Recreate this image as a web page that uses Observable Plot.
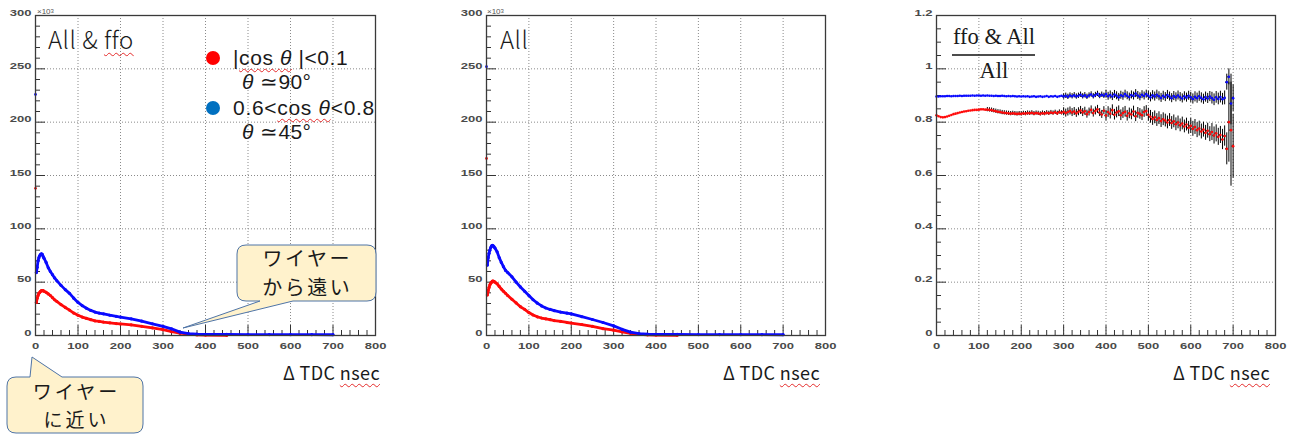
<!DOCTYPE html>
<html><head><meta charset="utf-8">
<script src="https://cdn.jsdelivr.net/npm/d3@7"></script>
<script src="https://cdn.jsdelivr.net/npm/@observablehq/plot@0.6"></script>
<style>
body{margin:0;background:#fff;}
#root{position:relative;width:1299px;height:436px;overflow:hidden;background:#fff;}
.panel{position:absolute;top:0;}
.t{position:absolute;white-space:nowrap;line-height:1;color:#1a1a1a;}
.wavy{text-decoration:underline wavy #e52b2b;text-decoration-thickness:1px;text-underline-offset:3px;}
.it{font-style:italic;}
.callout{position:absolute;text-align:center;white-space:nowrap;color:#1a1a1a;font-family:"Noto Sans CJK JP","Noto Sans",sans-serif;}
#ov{position:absolute;left:0;top:0;}
</style></head>
<body><div id="root"></div>
<script>
// ---------------- data ----------------
// panels 1 & 2: counts (x10^3) vs ΔTDC (ns)
const countNs = [2,4,6,8,10,12,14,16,18,20,25,30,35,40,45,50,60,70,80,90,100,110,120,130,140,150,160,175,190,200,225,250,275,300,320,340,360,380,400,450,500,550,600,650,700];
const allFfoBlue = [59,64,70,73,75,76,76.6,76,74,72.5,68.5,63.5,60,57,54,51.5,47,43,39.5,35,31,28,25.5,23.5,22,21,20.3,19,18,17.3,15.6,13.4,11,8.6,6.3,3.2,1.8,1.3,1.1,1.0,0.9,0.9,0.8,0.8,0.7];
const allFfoRed  = [31,35,37.5,39.5,40.5,41.5,42,42,42,41.5,40.5,39,37.5,35.5,33.5,32,29,26.3,23.8,21,19,17.3,16,14.8,13.8,13.2,12.6,11.9,11.2,10.8,10,8.6,7.2,5.4,3.6,2.2,1.2,0.6,0.4,0.2,null,null,null,null,null];
const allBlue    = [66,73,77,80,82.5,84,84.5,84,83,82,78.5,73,68.5,64.5,61,59,55,50,45.5,41.5,37.5,33.5,30.3,27.7,25.8,24.4,23.3,22,20.9,20.2,17.6,15,12.2,9,5.8,3.1,1.8,1.3,1.1,1.0,0.9,0.9,0.8,0.8,0.7];
const allRed     = [38,42,45,47.5,49,50,51,51,50.5,50,48.5,46,43.5,41.5,39.5,37.5,34,30.5,27,24.5,21.5,19.2,17.5,16.4,15.6,14.8,14,13.2,12.2,11.7,10.3,8.5,6.4,5,3.4,2,1.1,0.6,0.4,0.25,null,null,null,null,null];
// first bin (ΔTDC = 0): [All & ffo, All]
const zeroBinBlue = [226, 252];
const zeroBinRed  = [138, 166];

// panel 3: ratio (ffo & All) / All
const ratioNs = [
0,5,10,15,20,25,30,35,40,45, 50,55,60,65,70,75,80,85,90,95,
100,105,110,115,120,125,130,135,140,145, 150,155,160,165,170,175,180,185,190,195,
200,205,210,215,220,225,230,235,240,245, 250,255,260,265,270,275,280,285,290,295,
300,305,310,315,320,325,330,335,340,345, 350,355,360,365,370,375,380,385,390,395,
400,405,410,415,420,425,430,435,440,445, 450,455,460,465,470,475,480,485,490,495,
500,505,510,515,520,525,530,535,540,545, 550,555,560,565,570,575,580,585,590,595,
600,605,610,615,620,625,630,635,640,645, 650,655,660,665,670,675,680,685,690,695,
700];
const ratioRed = [
.826,.822,.819,.818,.819,.821,.824,.827,.830,.832,
.834,.836,.838,.840,.841,.843,.844,.845,.846,.846,
.847,.848,.848,.847,.847,.846,.845,.843,.841,.839,
.838,.836,.835,.834,.833,.832,.833,.832,.831,.832,
.831,.833,.832,.834,.833,.835,.832,.834,.833,.831,
.834,.832,.835,.833,.836,.834,.837,.833,.838,.835,
.839,.834,.838,.842,.836,.840,.833,.839,.844,.836,
.841,.830,.838,.846,.834,.842,.848,.836,.829,.843,
.825,.838,.832,.845,.828,.836,.841,.826,.834,.839,
.824,.833,.829,.840,.822,.835,.831,.826,.838,.842,
.828,.820,.812,.818,.808,.815,.804,.811,.806,.799,
.808,.797,.803,.792,.799,.788,.795,.784,.791,.779,
.786,.775,.782,.770,.776,.765,.772,.760,.768,.755,
.763,.750,.758,.745,.752,.735,.748,.700,.800,.770,
.710];
const ratioBlue = [
.896,.896,.897,.897,.897,.898,.898,.897,.898,.898,
.898,.899,.898,.899,.899,.899,.899,.900,.899,.900,
.900,.899,.900,.899,.900,.899,.899,.898,.899,.898,
.898,.899,.898,.897,.898,.897,.898,.897,.896,.897,
.896,.897,.896,.897,.895,.896,.897,.895,.896,.897,
.895,.896,.898,.895,.897,.896,.898,.895,.897,.899,
.896,.899,.895,.900,.897,.901,.896,.899,.903,.897,
.901,.895,.900,.904,.897,.902,.906,.898,.903,.899,
.905,.897,.902,.896,.904,.899,.893,.901,.897,.905,
.899,.894,.902,.898,.907,.900,.895,.903,.898,.905,
.899,.893,.901,.896,.903,.897,.891,.899,.894,.902,
.896,.890,.898,.893,.900,.894,.889,.897,.892,.899,
.893,.887,.895,.890,.897,.891,.886,.894,.889,.896,
.890,.884,.893,.887,.894,.886,.891,.950,.970,.870,
.890];
// error bar half-size, by ΔTDC range start
const errRedStart  = [0,120,300,400,500,600,650,675,685,690,695,700];
const errRed       = [0,.008,.015,.02,.024,.028,.032,.038,.06,.15,.21,.12];
const errBlueStart = [0,300,400,500,600,650,680,685,690,695,700];
const errBlue      = [0,.01,.015,.017,.019,.022,.026,.03,.03,.08,.05];

// axes
const xMajor = [0,100,200,300,400,500,600,700,800];
const yMajorCount = [0,50,100,150,200,250,300];
const yMajorRatio = [0,0.2,0.4,0.6,0.8,1,1.2];

// ---------------- drawing ----------------
const RED = "#ff0a0a", BLUE = "#0a0aff";
const CJK = '"Noto Sans CJK JP","Noto Sans",sans-serif';
const SANS = '"Liberation Sans",Arial,sans-serif';
const SERIF = '"Liberation Serif","DejaVu Serif",serif';
const root = document.getElementById("root");
const xMinor = d3.range(0, 801, 20).filter(v => v % 100 !== 0);
const yMinorCount = d3.range(0, 301, 10).filter(v => v % 50 !== 0);
const yMinorRatio = d3.range(0, 25).filter(i => i % 4 !== 0).map(i => i * 0.05);

const pts = (ns, vals) => ns.map((x, i) => ({x, y: vals[i]})).filter(d => d.y != null);
const lookup = (starts, vals, x) => { let k = 0; for (let i = 0; i < starts.length; i++) if (starts[i] <= x) k = i; return vals[k]; };

function panel({left, width, ml, mr, yDomain, yMajor, yMinor, dataMarks}) {
  const mt = 15, mb = 25, height = 360;
  const fw = width - ml - mr, fh = height - mt - mb;
  const grid = {stroke: "#8a8a8a", strokeDasharray: "1,2", strokeWidth: 1};
  const tick = {stroke: "#333", strokeWidth: 1};
  const p = Plot.plot({
    width, height, marginLeft: ml, marginRight: mr, marginTop: mt, marginBottom: mb,
    x: {domain: [0, 800]}, y: {domain: yDomain},
    style: {background: "transparent", overflow: "visible"},
    marks: [
      Plot.ruleX(xMajor.slice(1, -1), grid),
      Plot.ruleY(yMajor.slice(1, -1), grid),
      Plot.ruleX(xMajor, {...tick, insetTop: fh - 10}),
      Plot.ruleX(xMinor, {...tick, insetTop: fh - 5}),
      Plot.ruleY(yMajor, {...tick, insetRight: fw - 10}),
      Plot.ruleY(yMinor, {...tick, insetRight: fw - 5}),
      ...dataMarks,
      Plot.frame({stroke: "#3a3a3a", strokeWidth: 1.3}),
      Plot.axisX({ticks: xMajor, tickSize: 0, tickPadding: 13, label: null, tickFormat: d => String(d)}),
      Plot.axisY({ticks: yMajor, tickSize: 0, tickPadding: 4, label: null, tickFormat: d => String(d)})
    ]
  });
  p.querySelectorAll("text").forEach(t => {
    t.setAttribute("font-family", "Liberation Sans, Arial, sans-serif");
    t.setAttribute("font-weight", "bold");
    t.setAttribute("font-size", "9");
    t.setAttribute("fill", "#4a4a4a");
    const x = +t.getAttribute("x") || 0, y = +t.getAttribute("y") || 0;
    t.removeAttribute("x"); t.removeAttribute("y");
    const tr = t.getAttribute("transform") || "";
    t.setAttribute("transform", `${tr} translate(${x},${y}) scale(1.45,1)`);
  });
  const d = document.createElement("div");
  d.className = "panel"; d.style.left = left + "px";
  d.appendChild(p);
  root.appendChild(d);
}

function countMarks(blueVals, redVals, zi) {
  const b = pts(countNs, blueVals), r = pts(countNs, redVals);
  return [
    Plot.line(r, {x: "x", y: "y", stroke: RED, strokeWidth: 2.8}),
    Plot.dot(r, {x: "x", y: "y", r: 1.6, fill: RED}),
    Plot.line(b, {x: "x", y: "y", stroke: BLUE, strokeWidth: 2.8}),
    Plot.dot(b, {x: "x", y: "y", r: 1.6, fill: BLUE}),
    Plot.dot([{x: 0, y: zeroBinRed[zi]}], {x: "x", y: "y", r: 1.4, fill: RED}),
    Plot.dot([{x: 0, y: zeroBinBlue[zi]}], {x: "x", y: "y", r: 1.4, fill: BLUE})
  ];
}

function ratioMarks() {
  const mk = (vals, starts, errs) => ratioNs.map((x, i) => ({x, y: vals[i], e: lookup(starts, errs, x)}));
  const r = mk(ratioRed, errRedStart, errRed), b = mk(ratioBlue, errBlueStart, errBlue);
  const err = data => {
    const e = data.filter(d => d.e > 0);
    return [
      Plot.ruleX(e, {x: "x", y1: d => d.y - d.e, y2: d => d.y + d.e, stroke: "#000", strokeWidth: 1}),
      Plot.ruleY(e, {y: "y", x1: d => d.x - 2.5, x2: d => d.x + 2.5, stroke: "#000", strokeWidth: 1.4})
    ];
  };
  return [
    ...err(r), ...err(b),
    Plot.dot(r, {x: "x", y: "y", r: 1.3, fill: RED}),
    Plot.dot(b, {x: "x", y: "y", r: 1.3, fill: BLUE})
  ];
}

panel({left: 0, width: 400, ml: 35, mr: 25, yDomain: [0, 300], yMajor: yMajorCount, yMinor: yMinorCount, dataMarks: countMarks(allFfoBlue, allFfoRed, 0)});
panel({left: 450, width: 400, ml: 36, mr: 25, yDomain: [0, 300], yMajor: yMajorCount, yMinor: yMinorCount, dataMarks: countMarks(allBlue, allRed, 1)});
panel({left: 900, width: 399, ml: 36, mr: 24, yDomain: [0, 1.2], yMajor: yMajorRatio, yMinor: yMinorRatio, dataMarks: ratioMarks()});

// ---------------- annotations ----------------
const NS = "http://www.w3.org/2000/svg";
const ov = document.createElementNS(NS, "svg");
ov.setAttribute("id", "ov"); ov.setAttribute("width", 1299); ov.setAttribute("height", 436);
ov.innerHTML = `
<path d="M246,245 H367 Q376,245 376,254 V292 Q376,301 367,301 H293 L183,328 L260,301 H246 Q237,301 237,292 V254 Q237,245 246,245 Z" fill="#fff2cc" stroke="#4f74a6" stroke-width="1"/>
<path d="M16,377 H30 L32,357 L62,377 H134 Q143,377 143,386 V424 Q143,433 134,433 H16 Q7,433 7,424 V386 Q7,377 16,377 Z" fill="#fff2cc" stroke="#4f74a6" stroke-width="1"/>
<circle cx="213" cy="58" r="7" fill="#ff0000"/>
<circle cx="213" cy="108" r="7" fill="#0070c0"/>
<line x1="952" x2="1035" y1="55" y2="55" stroke="#111" stroke-width="1.3"/>`;
root.appendChild(ov);

function addText(html, {x, baseline, fs, family = CJK, anchor = "start", color = "#1a1a1a", ls = 0, weight = 400}) {
  const d = document.createElement("div");
  d.className = "t"; d.innerHTML = html;
  const asc = family === SERIF ? 0.8375 : family === SANS ? 0.8465 : 0.936;
  d.style.fontSize = fs + "px"; d.style.fontFamily = family; d.style.color = color;
  d.style.letterSpacing = ls + "px"; d.style.fontWeight = weight;
  d.style.top = (baseline - asc * fs) + "px";
  if (anchor === "start") d.style.left = x + "px";
  else if (anchor === "end") d.style.right = (1299 - x) + "px";
  else { d.style.left = (x - 150) + "px"; d.style.width = "300px"; d.style.textAlign = "center"; }
  root.appendChild(d);
}
function addCallout(html, {cx, top, fs, lh, ls}) {
  const d = document.createElement("div");
  d.className = "callout"; d.innerHTML = html;
  d.style.left = (cx - 100) + "px"; d.style.width = "200px"; d.style.top = top + "px";
  d.style.fontSize = fs + "px"; d.style.lineHeight = lh + "px";
  d.style.letterSpacing = ls + "px"; d.style.paddingLeft = ls + "px"; d.style.boxSizing = "border-box";
  root.appendChild(d);
}
// x10^3 multipliers
addText('×10<span style="font-size:6px;vertical-align:top">3</span>', {x: 37, baseline: 15, fs: 8, family: SANS, color: "#555"});
addText('×10<span style="font-size:6px;vertical-align:top">3</span>', {x: 487, baseline: 15, fs: 8, family: SANS, color: "#555"});
// titles
addText('All &amp; <span class="wavy">ffo</span>', {x: 48, baseline: 49, fs: 24, ls: 0.5, weight: 300});
addText('All', {x: 500, baseline: 49, fs: 24, ls: 0.5, weight: 300});
addText('ffo &amp; All', {x: 953, baseline: 45, fs: 22.5, family: SERIF});
addText('All', {x: 994, baseline: 79, fs: 22.5, family: SERIF, anchor: "middle"});
// legend
addText('|<span class="wavy">cos&nbsp;</span><span class="wavy it">θ</span>&nbsp;|&lt;0.1', {x: 233, baseline: 65, fs: 21, family: SANS, ls: 0.6});
addText('<span class="it">θ</span>&nbsp;≃90°', {x: 242, baseline: 89, fs: 21, family: SANS, ls: 0.4});
addText('0.6&lt;<span class="wavy">cos&nbsp;</span><span class="wavy it">θ</span>&lt;0.8', {x: 233, baseline: 115, fs: 21, family: SANS, ls: 0.7});
addText('<span class="it">θ</span>&nbsp;≃45°', {x: 242, baseline: 139, fs: 21, family: SANS, ls: 0.4});
// x-axis titles
[380, 820, 1270].forEach(x => addText('Δ TDC <span class="wavy">nsec</span>', {x, baseline: 380, fs: 18, anchor: "end", ls: 0.4}));
// callout texts
addCallout('ワイヤー<br>から遠い', {cx: 306, top: 243, fs: 20, lh: 29, ls: 2.5});
addCallout('ワイヤー<br>に近い', {cx: 75, top: 377, fs: 19, lh: 27.6, ls: 3});
</script>
</body></html>
